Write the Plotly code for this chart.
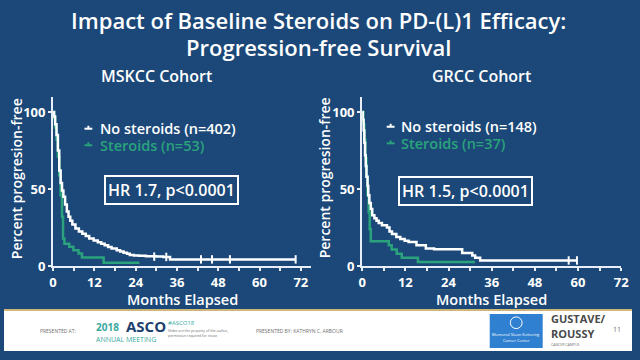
import plotly.graph_objects as go

# ---------------- data ----------------
x_ticks = [0, 12, 24, 36, 48, 60, 72]
x_minor = [6, 18, 30, 42, 54, 66]
y_ticks = [0, 50, 100]

# MSKCC cohort
mskcc_ns_t = [0, 0.3, 0.6, 1.0, 1.4, 1.8, 2.2, 2.6, 3.0, 3.5, 4.0, 4.5, 5.0, 5.6, 6.5, 7.5,
              8.5, 9.5, 10.5, 11.8, 13.0, 14.0, 15.0, 16.0, 17.0, 18.5, 19.5, 20.5, 21.5,
              22.3, 23.5, 25.0, 27.0, 30.0, 32.0, 34.0, 70.5]
mskcc_ns_s = [100, 97, 92, 85, 75, 62, 54, 49, 45, 40, 35.5, 32, 29.5, 27, 24.5, 22.5,
              21, 19.5, 18, 16.7, 15.5, 14.5, 13.5, 12.5, 11.5, 10.3, 9.5, 8.7, 8.0,
              7.2, 7.0, 6.8, 6.5, 6.2, 6.0, 4.4, 4.4]
mskcc_ns_cens_t = [29.4, 32.9, 43.0, 46.2, 51.4, 70.5]
mskcc_ns_cens_s = [6.2, 6.0, 4.4, 4.4, 4.4, 4.4]

mskcc_st_t = [0, 0.3, 0.6, 1.0, 1.4, 1.8, 2.2, 2.6, 2.9, 3.3, 4.7, 5.9, 7.4, 8.4, 14.7, 25.1]
mskcc_st_s = [100, 96, 90, 82, 71, 59, 46, 32, 18, 14.5, 12.6, 10.3, 8.2, 5.7, 2.3, 2.3]

# GRCC cohort
grcc_ns_t = [0, 0.2, 0.4, 0.6, 0.8, 1.0, 1.2, 1.5, 1.7, 2.0, 2.4, 2.8, 3.4, 4.0, 4.6, 5.5,
             6.9, 7.6, 8.3, 9.5, 10.6, 11.8, 12.9, 15.1, 17.7, 20.0, 27.8, 30.6, 31.4,
             32.8, 59.7]
grcc_ns_s = [100, 95, 88, 80, 72, 65, 58, 52, 46, 41, 37, 33, 31, 29.5, 28, 26.5,
             25, 22.5, 20.8, 19, 17.7, 16.5, 15.6, 13.5, 11.5, 11.0, 8.5, 7.0, 5.5,
             3.7, 3.7]
grcc_ns_cens_t = [57.4, 59.7]
grcc_ns_cens_s = [3.7, 3.7]

grcc_st_t = [0, 0.3, 0.6, 0.9, 1.2, 1.5, 1.8, 2.1, 2.4, 7.4, 8.2, 9.6, 11.0, 15.5, 31.4]
grcc_st_s = [100, 92, 82, 70, 58, 46, 35, 24, 16.2, 13.5, 10.8, 8.1, 5.4, 2.7, 2.7]

# ---------------- style ----------------
BG = "#1b4878"
WHITE = "#ffffff"
AXIS = "#e8eef8"
GREEN = "#2aa37c"
FONT = "Open Sans"

def px(x):
    return x / 640

def py(y):
    return 1 - y / 360

fig = go.Figure()

def add_km(t, s, color, xa, ya):
    fig.add_trace(go.Scatter(x=t, y=s, mode="lines", line=dict(color=color, width=2.5, shape="hv"),
                             xaxis=xa, yaxis=ya, showlegend=False, hoverinfo="skip"))

def add_cens(t, s, color, xa, ya):
    fig.add_trace(go.Scatter(x=t, y=s, mode="markers",
                             marker=dict(symbol="line-ns", size=6, line=dict(color=color, width=2)),
                             xaxis=xa, yaxis=ya, showlegend=False, hoverinfo="skip", cliponaxis=False))

add_km(mskcc_st_t, mskcc_st_s, GREEN, "x", "y")
add_km(mskcc_ns_t, mskcc_ns_s, WHITE, "x", "y")
add_cens(mskcc_ns_cens_t, mskcc_ns_cens_s, WHITE, "x", "y")
add_km(grcc_st_t, grcc_st_s, GREEN, "x2", "y2")
add_km(grcc_ns_t, grcc_ns_s, WHITE, "x2", "y2")
add_cens(grcc_ns_cens_t, grcc_ns_cens_s, WHITE, "x2", "y2")

axis_common = dict(showline=True, linecolor=AXIS, linewidth=2, ticks="outside",
                   tickcolor=AXIS, tickwidth=2, ticklen=3, showgrid=False, zeroline=False,
                   tickfont=dict(family=FONT, size=13, color=WHITE, weight="bold"), fixedrange=True)
minor = dict(tickvals=x_minor, ticks="outside", ticklen=3, tickcolor=AXIS, tickwidth=2)

ydom = [py(273), py(99)]
fig.update_layout(
    width=640, height=360, margin=dict(l=0, r=0, t=0, b=0, pad=0),
    paper_bgcolor=BG, plot_bgcolor=BG,
    xaxis=dict(domain=[px(50), px(313)], range=[0, 75], tickvals=x_ticks, minor=minor,
               anchor="y", **axis_common),
    yaxis=dict(domain=ydom, range=[0, 110], tickvals=y_ticks, anchor="x", **axis_common),
    xaxis2=dict(domain=[px(365), px(629)], range=[0, 72], tickvals=x_ticks, minor=minor,
                anchor="y2", **axis_common),
    yaxis2=dict(domain=ydom, range=[0, 110], tickvals=y_ticks, anchor="x2", **axis_common),
)

ann = []
def text(x, y, t, size, color=WHITE, weight="normal", xanchor="center", angle=0, family=FONT):
    ann.append(dict(x=px(x), y=py(y), xref="paper", yref="paper", text=t, showarrow=False,
                    xanchor=xanchor, yanchor="middle", textangle=angle,
                    font=dict(family=family, size=size, color=color, weight=weight)))

# title
text(320, 21, "Impact of Baseline Steroids on PD-(L)1 Efficacy:", 22, weight=600)
text(320, 48, "Progression-free Survival", 22, weight=600)
# panel titles
text(155, 78, "MSKCC Cohort", 16, weight=600)
text(487, 78, "GRCC Cohort", 16, weight=600)
# axis titles
text(13, 183, "Percent progresion-free", 14, weight=600, angle=-90)
text(327, 182, "Percent progresion-free", 14, weight=600, angle=-90)
text(182, 307, "Months Elapsed", 14.5, weight=600)
text(497, 307, "Months Elapsed", 14.5, weight=600)
# legends
text(96, 132, "No steroids (n=402)", 14.5, weight=600, xanchor="left")
text(96, 149, "Steroids (n=53)", 14.5, color=GREEN, weight=600, xanchor="left")
text(403, 130, "No steroids (n=148)", 14.5, weight=600, xanchor="left")
text(403, 147, "Steroids (n=37)", 14.5, color=GREEN, weight=600, xanchor="left")
# HR boxes
for cx, cy, t in [(170.5, 195, "HR 1.7, p<0.0001"), (470, 196, "HR 1.5, p<0.0001")]:
    ann.append(dict(x=px(cx), y=py(cy), xref="paper", yref="paper", text=t, showarrow=False,
                    xanchor="center", yanchor="middle",
                    bordercolor=WHITE, borderwidth=2, borderpad=2,
                    font=dict(family=FONT, size=16, color=WHITE, weight=600)))

shapes = []
# legend symbols
for x0, y0, c in [(82, 132, WHITE), (82, 149, GREEN), (390, 130, WHITE), (390, 147, GREEN)]:
    shapes.append(dict(type="line", xref="paper", yref="paper", x0=px(x0), x1=px(x0 + 8),
                       y0=py(y0), y1=py(y0), line=dict(color=c, width=2)))
    shapes.append(dict(type="line", xref="paper", yref="paper", x0=px(x0 + 4), x1=px(x0 + 4),
                       y0=py(y0 - 3), y1=py(y0), line=dict(color=c, width=2)))

# footer
shapes.append(dict(type="rect", xref="paper", yref="paper", x0=0, x1=1, y0=0, y1=py(318),
                   fillcolor="#ffffff", line=dict(width=0), layer="above"))
shapes.append(dict(type="line", xref="paper", yref="paper", x0=0, x1=1, y0=py(318), y1=py(318),
                   line=dict(color="#cdb87a", width=2), layer="above"))
shapes.append(dict(type="rect", xref="paper", yref="paper", x0=px(495), x1=px(549),
                   y0=py(357), y1=py(322), fillcolor="#2f80d0", line=dict(width=0), layer="above"))
shapes.append(dict(type="circle", xref="paper", yref="paper", x0=px(516), x1=px(528),
                   y0=py(337), y1=py(325), fillcolor="rgba(0,0,0,0)",
                   line=dict(color="#ffffff", width=1), layer="above"))
fig.update_layout(shapes=shapes)

GRAY = "#6f6f6f"
TEAL = "#39a9a0"
text(55, 339, "PRESENTED AT:", 5, color=GRAY)
text(92, 335, "2018", 10, color=TEAL, xanchor="left", weight="bold")
text(122, 334, "ASCO", 15, color="#1c3f6e", xanchor="left", weight="bold")
text(92, 348, "ANNUAL MEETING", 7, color=TEAL, xanchor="left")
text(165, 331, "#ASCO18", 6, color=TEAL, xanchor="left")
text(165, 339, "Slides are the property of the author,", 3.5, color=GRAY, xanchor="left")
text(165, 344, "permission required for reuse.", 3.5, color=GRAY, xanchor="left")
text(255, 339, "PRESENTED BY: KATHRYN C. ARBOUR", 5, color=GRAY, xanchor="left")
text(522, 343, "Memorial Sloan Kettering", 4, color="#ffffff")
text(522, 349, "Cancer Center", 4, color="#ffffff")
text(555, 327, "GUSTAVE/", 11, color="#4a4a4a", xanchor="left", weight="bold")
text(555, 342, "ROUSSY", 11, color="#4a4a4a", xanchor="left", weight="bold")
text(555, 353, "CANCER CAMPUS", 3.5, color=GRAY, xanchor="left")
text(625, 338, "11", 7, color=GRAY)

fig.update_layout(annotations=ann)
fig.write_html(
    "out.html",
    config={"displayModeBar": False},
    post_script=("document.body.style.margin='0';"
                 "document.body.style.overflow='hidden';"),
)
